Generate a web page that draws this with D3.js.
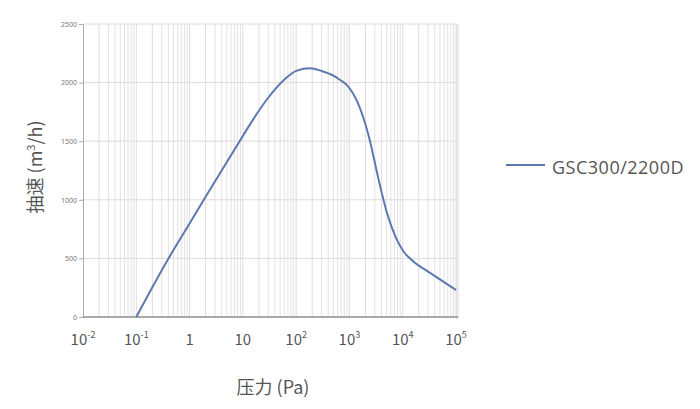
<!DOCTYPE html>
<html>
<head>
<meta charset="utf-8">
<script src="https://cdn.jsdelivr.net/npm/d3@7"></script>
<style>
  body { margin: 0; background: #fff; }
  text { font-family: "Noto Sans CJK SC", "Noto Sans", sans-serif; }
</style>
</head>
<body>
<div id="chart"></div>
<script>
// Data
const pressure = [0.1, 0.38, 1, 1.85, 7.94, 13.9, 28.7, 58.8, 103, 183, 300, 500, 670, 890, 1580, 2450, 3300, 5090, 7300, 10450, 16100, 33100, 100000];
const speed = [0, 480, 797, 1000, 1470, 1650, 1860, 2022, 2102, 2122, 2099, 2059, 2022, 1980, 1781, 1496, 1230, 885, 685, 557, 472, 375, 230];
const yTicks = [0, 500, 1000, 1500, 2000, 2500];
const xExponents = [-2, -1, 0, 1, 2, 3, 4, 5];
const seriesName = "GSC300/2200D";

const width = 700, height = 409;
const margin = {top: 24, right: 244, bottom: 92, left: 83};
const plotW = width - margin.left - margin.right;
const plotH = height - margin.top - margin.bottom;

const svg = d3.select("#chart")
    .append("svg")
    .attr("width", width)
    .attr("height", height);

const g = svg.append("g")
    .attr("transform", `translate(${margin.left},${margin.top})`);

const xScale = d3.scaleLog()
    .domain([1e-2, 1e5])
    .range([0, plotW]);

const yScale = d3.scaleLinear()
    .domain([0, 2500])
    .range([plotH, 0]);

// shadow on the right edge of the plot
g.append("rect")
    .attr("x", plotW)
    .attr("y", 0)
    .attr("width", 3)
    .attr("height", plotH + 2)
    .attr("fill", "#ebebeb");

// vertical grid: minor lines at 2..9 of each decade, major at decades
const minor = [];
for (let e = -2; e < 5; e++) {
    for (let m = 2; m <= 9; m++) minor.push(m * Math.pow(10, e));
}
g.selectAll(".minor")
    .data(minor)
    .enter()
    .append("line")
    .attr("x1", d => xScale(d))
    .attr("x2", d => xScale(d))
    .attr("y1", 0)
    .attr("y2", plotH)
    .attr("stroke", (d, i) => i % 8 === 0 ? "#e6d9d9" : "#e2e2e2")
    .attr("stroke-width", 1);

g.selectAll(".major")
    .data(xExponents.slice(1))
    .enter()
    .append("line")
    .attr("x1", d => xScale(Math.pow(10, d)))
    .attr("x2", d => xScale(Math.pow(10, d)))
    .attr("y1", 0)
    .attr("y2", plotH)
    .attr("stroke", "#e4d9d9")
    .attr("stroke-width", 1);

// horizontal grid
g.selectAll(".hgrid")
    .data(yTicks.slice(1))
    .enter()
    .append("line")
    .attr("x1", 0)
    .attr("x2", plotW)
    .attr("y1", d => yScale(d))
    .attr("y2", d => yScale(d))
    .attr("stroke", "#e4d9d9")
    .attr("stroke-width", 1);

// y axis
const yAxis = d3.axisLeft(yScale)
    .tickValues(yTicks)
    .tickFormat(d3.format("d"))
    .tickSize(4)
    .tickPadding(2);

const yG = g.append("g").call(yAxis);
yG.select(".domain").attr("stroke", "#aaa");
yG.selectAll(".tick line").attr("stroke", "#aaa");
yG.selectAll(".tick text")
    .attr("fill", "#777")
    .style("font-size", "7px")
    .style("font-family", "'Noto Sans', sans-serif");

// x axis line
g.append("line")
    .attr("x1", 0)
    .attr("x2", plotW + 2)
    .attr("y1", plotH)
    .attr("y2", plotH)
    .attr("stroke", "#8c8c8c")
    .attr("stroke-width", 1.5);

// x tick labels 10^n
const xLab = g.selectAll(".xlab")
    .data(xExponents)
    .enter()
    .append("text")
    .attr("x", d => xScale(Math.pow(10, d)))
    .attr("y", plotH + 28)
    .attr("text-anchor", "middle")
    .attr("fill", "#555")
    .style("font-size", "15px");

xLab.each(function(d) {
    const t = d3.select(this);
    if (d === 0) {
        t.text("1");
    } else if (d === 1) {
        t.text("10");
    } else {
        t.append("tspan").text("10");
        t.append("tspan")
            .attr("dy", -7)
            .style("font-size", "9px")
            .text(d);
    }
});

// series line
const line = d3.line()
    .x((d, i) => xScale(pressure[i]))
    .y(d => yScale(d))
    .curve(d3.curveMonotoneX);

g.append("path")
    .datum(speed)
    .attr("fill", "none")
    .attr("stroke", "#5b79b0")
    .attr("stroke-width", 2)
    .attr("d", line);

// axis titles
const yTitle = svg.append("text")
    .attr("transform", "translate(42,167) rotate(-90)")
    .attr("text-anchor", "middle")
    .attr("fill", "#555")
    .style("font-size", "18px");
yTitle.append("tspan").text("抽速 (m");
yTitle.append("tspan").attr("dy", -7).style("font-size", "11px").text("3");
yTitle.append("tspan").attr("dy", 7).text("/h)");

svg.append("text")
    .attr("x", 273)
    .attr("y", 394)
    .attr("text-anchor", "middle")
    .attr("fill", "#555")
    .style("font-size", "18px")
    .text("压力 (Pa)");

// legend
const legend = svg.append("g")
    .attr("transform", "translate(506,165)");
legend.append("line")
    .attr("x1", 0)
    .attr("x2", 39)
    .attr("y1", 0)
    .attr("y2", 0)
    .attr("stroke", "#5b79b0")
    .attr("stroke-width", 2);
legend.append("text")
    .attr("x", 46)
    .attr("y", 9)
    .attr("fill", "#555")
    .style("font-family", "'Open Sans', sans-serif")
    .style("font-size", "18px")
    .style("letter-spacing", "0.5px")
    .text(seriesName);
</script>
</body>
</html>
